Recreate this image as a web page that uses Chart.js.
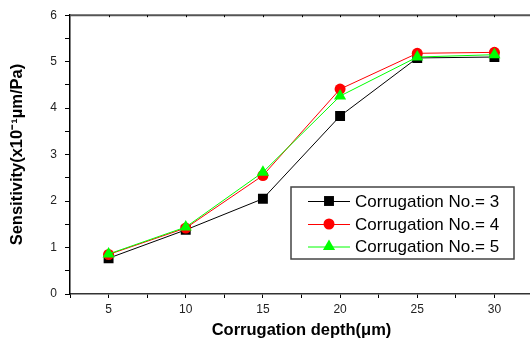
<!DOCTYPE html>
<html>
<head>
<meta charset="utf-8">
<script src="https://cdn.jsdelivr.net/npm/chart.js@4/dist/chart.umd.min.js"></script>
<style>
html,body{margin:0;padding:0;background:#fff;overflow:hidden;}
#wrap{position:relative;width:540px;height:343px;}
</style>
</head>
<body>
<div id="wrap"><canvas id="c" width="540" height="343"></canvas></div>
<script>
const depths = [5, 10, 15, 20, 25, 30];
const corr3 = [0.77, 1.38, 2.05, 3.83, 5.08, 5.10];
const corr4 = [0.85, 1.42, 2.55, 4.41, 5.18, 5.20];
const corr5 = [0.86, 1.44, 2.62, 4.26, 5.10, 5.15];
const seriesLabels = ['Corrugation No.= 3', 'Corrugation No.= 4', 'Corrugation No.= 5'];
const xTickLabels = [5, 10, 15, 20, 25, 30];
const yTickLabels = [0, 1, 2, 3, 4, 5, 6];
const xTitle = 'Corrugation depth(\u03bcm)';
const yTitle = 'Sensitivity(x10\u207b\u00b9\u00b5m/Pa)';

const FONT = "'Liberation Sans', Arial, sans-serif";

function pts(vals){ return depths.map((d,i)=>({x:d, y:vals[i]})); }

const styles = [
  {color:'#000000', style:'rect', r:7, order:3},
  {color:'#ff0000', style:'circle', r:5.5, order:2},
  {color:'#00ff00', style:'triangle', r:7, order:1}
];
const seriesData = [corr3, corr4, corr5];

const datasets = seriesData.map((v,i)=>({
  label: seriesLabels[i],
  data: pts(v),
  borderColor: styles[i].color,
  backgroundColor: styles[i].color,
  borderWidth: 1,
  pointStyle: styles[i].style,
  pointRadius: styles[i].r,
  pointBorderWidth: 0,
  pointBackgroundColor: styles[i].color,
  order: styles[i].order,
  tension: 0
}));

const framePlugin = {
  id:'frame',
  afterDraw(chart){
    const ctx = chart.ctx, a = chart.chartArea;
    const xs = chart.scales.x;
    ctx.save();
    ctx.strokeStyle = '#555';
    ctx.lineWidth = 2;
    ctx.beginPath();
    ctx.moveTo(a.left, a.top);
    ctx.lineTo(a.right, a.top);
    ctx.stroke();
    ctx.strokeStyle = '#000';
    ctx.lineWidth = 1;
    for(let v=5; v<=32.5; v+=2.5){
      const px = Math.round(xs.getPixelForValue(v))+0.5;
      ctx.beginPath(); ctx.moveTo(px, a.top); ctx.lineTo(px, a.top+2); ctx.stroke();
    }
    const bx=291, by=187, bw=223, bh=72;
    ctx.fillStyle='#fff';
    ctx.fillRect(bx,by,bw,bh);
    ctx.strokeStyle='#444';
    ctx.lineWidth=1.5;
    ctx.strokeRect(bx,by,bw,bh);
    const rows=[201,224,246.5];
    ctx.font = '17px ' + FONT;
    ctx.textBaseline='middle';
    ctx.textAlign='left';
    chart.data.datasets.forEach((ds,i)=>{
      const y = rows[i];
      ctx.strokeStyle = ds.borderColor;
      ctx.lineWidth = 1;
      ctx.beginPath(); ctx.moveTo(308,y+0.5); ctx.lineTo(350,y+0.5); ctx.stroke();
      ctx.fillStyle = ds.borderColor;
      Chart.helpers.drawPoint(ctx, {pointStyle: ds.pointStyle, radius: ds.pointRadius, borderWidth:0, rotation:0}, 329, y);
      ctx.fillStyle = '#000';
      ctx.fillText(ds.label, 355, y+1);
    });
    ctx.restore();
  }
};

new Chart(document.getElementById('c'), {
  type:'line',
  data:{datasets},
  options:{
    responsive:false,
    animation:false,
    events:[],
    layout:{padding:{left:0, top:15, right:5, bottom:0}},
    plugins:{legend:{display:false}, tooltip:{enabled:false}},
    scales:{
      x:{
        type:'linear',
        min:2.5, max:32.5,
        afterFit(s){ s.height = 49; },
        afterBuildTicks(s){
          const t=[]; for(let v=2.5; v<=32.5; v+=2.5) t.push({value:v}); s.ticks=t;
        },
        ticks:{
          autoSkip:false, maxRotation:0, padding:4,
          color:'#222', font:{family:FONT, size:12},
          callback:(v)=> xTickLabels.includes(v) ? String(v) : ''
        },
        grid:{drawOnChartArea:false, drawTicks:true, tickLength:4, color:'#000', tickColor:'#000'},
        border:{display:true, color:'#333', width:1.5},
        title:{display:true, text:xTitle, color:'#000', font:{family:FONT, size:16.5, weight:'bold'}, padding:{top:0,bottom:3}}
      },
      y:{
        type:'linear',
        min:0, max:6,
        afterFit(s){ s.width = 70; },
        afterBuildTicks(s){
          const t=[]; for(let v=0; v<=6; v+=0.5) t.push({value:v}); s.ticks=t;
        },
        ticks:{
          autoSkip:false, padding:8,
          color:'#222', font:{family:FONT, size:12},
          callback:(v)=> yTickLabels.includes(v) ? String(v) : ''
        },
        grid:{drawOnChartArea:false, drawTicks:true, tickLength:5, color:'#000', tickColor:'#000'},
        border:{display:true, color:'#000', width:1.5},
        title:{display:true, text:yTitle, color:'#000', font:{family:FONT, size:16.5, weight:'bold'}, padding:{top:8,bottom:4}}
      }
    }
  },
  plugins:[framePlugin]
});
</script>
</body>
</html>
